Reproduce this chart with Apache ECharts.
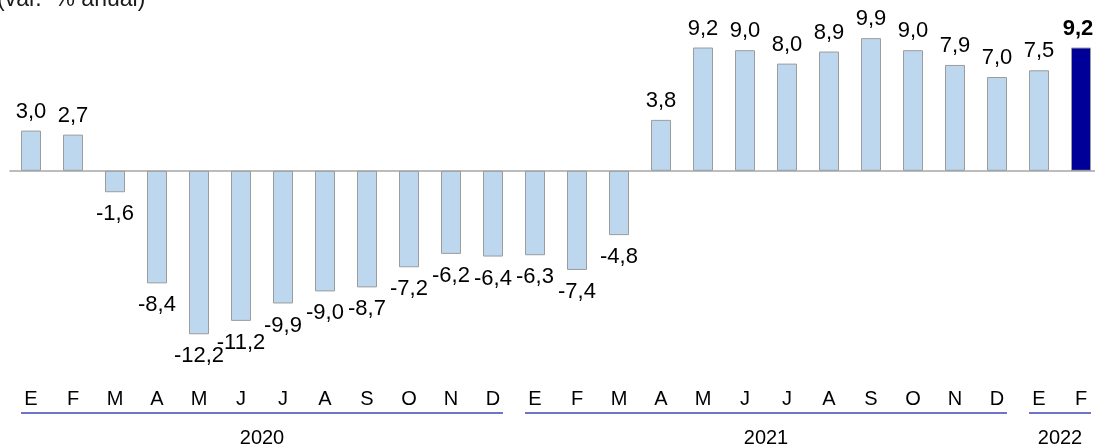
<!DOCTYPE html>
<html>
<head>
<meta charset="utf-8">
<script src="https://cdn.jsdelivr.net/npm/echarts@6/dist/echarts.min.js"></script>
<style>
  html, body { margin: 0; padding: 0; background: #fff; }
  #main { width: 1095px; height: 445px; }
</style>
</head>
<body>
<div id="main"></div>
<script>
// data
var months = ['E', 'F', 'M', 'A', 'M', 'J', 'J', 'A', 'S', 'O', 'N', 'D',
              'E', 'F', 'M', 'A', 'M', 'J', 'J', 'A', 'S', 'O', 'N', 'D',
              'E', 'F'];
var values = [3.0, 2.7, -1.6, -8.4, -12.2, -11.2, -9.9, -9.0, -8.7, -7.2, -6.2, -6.4,
              -6.3, -7.4, -4.8, 3.8, 9.2, 9.0, 8.0, 8.9, 9.9, 9.0, 7.9, 7.0,
              7.5, 9.2];
var years = ['2020', '2021', '2022'];
var yearMonths = [12, 12, 2];

var font = "'Liberation Sans', Arial, sans-serif";
var barW = 20;
var lightColor = '#bdd7ee';
var darkColor = '#000099';

var chartDom = document.getElementById('main');
var myChart = echarts.init(chartDom);

// first / last month index of each year, for the underlines
var groups = [];
var start = 0;
for (var i = 0; i < years.length; i++) {
  groups.push([start, start + yearMonths[i] - 1]);
  start += yearMonths[i];
}

var last = values.length - 1;
var barData = values.map(function (v, i) {
  var neg = v < 0;
  var item = {
    value: v,
    label: {
      position: neg ? 'bottom' : 'top',
      distance: neg ? 11 : 8
    }
  };
  if (i === last) {
    // latest month highlighted
    item.itemStyle = { color: darkColor };
    item.label.fontWeight = 'bold';
    item.label.offset = [-3, 0];
  }
  return item;
});

function fmt(p) {
  return p.value.toFixed(1).replace('.', ',');
}

var option = {
  animation: false,
  title: {
    text: '(var.  % anual)',
    left: -3,
    top: -12,
    padding: 0,
    textStyle: { fontFamily: font, fontSize: 23, fontWeight: 'normal', color: '#1a1a1a' }
  },
  grid: { left: 10, top: 10, width: 1092, height: 348.4, outerBoundsMode: 'none', containLabel: false },
  xAxis: [
    {
      type: 'category',
      data: months,
      axisLine: { onZero: true, lineStyle: { color: '#a6a6a6', width: 1.5 } },
      axisTick: { show: false },
      axisLabel: { show: false },
      splitLine: { show: false }
    },
    {
      type: 'category',
      data: months,
      position: 'bottom',
      axisLine: { show: false },
      axisTick: { show: false },
      axisLabel: { margin: 31, fontFamily: font, fontSize: 20, color: '#000' },
      splitLine: { show: false }
    }
  ],
  yAxis: {
    type: 'value',
    min: -14,
    max: 12,
    show: false,
    splitLine: { show: false }
  },
  series: [
    {
      type: 'bar',
      data: barData,
      barWidth: barW,
      itemStyle: { color: lightColor, borderColor: '#9c9c9c', borderWidth: 1 },
      label: {
        show: true,
        formatter: fmt,
        fontFamily: font,
        fontSize: 22,
        color: '#000'
      }
    },
    {
      type: 'custom',
      xAxisIndex: 1,
      clip: false,
      silent: true,
      data: groups,
      renderItem: function (params, api) {
        var cs = params.coordSys;
        var g = groups[params.dataIndex];
        var x0 = api.coord([g[0], 0])[0] - barW / 2;
        var x1 = api.coord([g[1], 0])[0] + barW / 2;
        var bottom = cs.y + cs.height;
        return {
          type: 'group',
          children: [
            {
              type: 'line',
              shape: { x1: x0, y1: bottom + 54.5, x2: x1, y2: bottom + 54.5 },
              style: { stroke: '#7074c8', lineWidth: 2 }
            },
            {
              type: 'text',
              style: {
                x: (x0 + x1) / 2,
                y: bottom + 80,
                text: years[params.dataIndex],
                align: 'center',
                verticalAlign: 'middle',
                font: '20px ' + font,
                fill: '#000'
              }
            }
          ]
        };
      }
    }
  ]
};

option && myChart.setOption(option);
</script>
</body>
</html>
